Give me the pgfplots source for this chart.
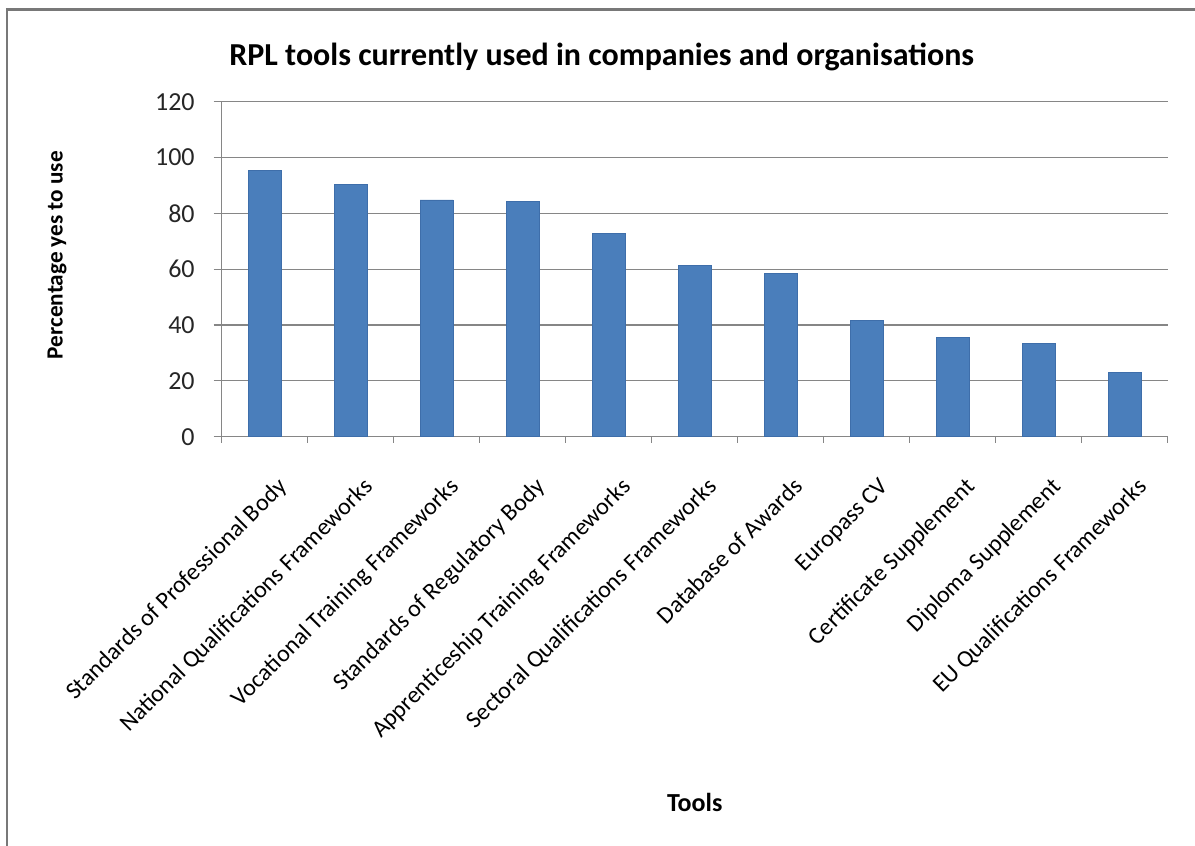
\documentclass[border=0pt]{standalone}
\usepackage{pgfplots}
\pgfplotsset{compat=1.18}
\usepackage{fontspec}
\setmainfont{Carlito}
\definecolor{barblue}{RGB}{74,126,187}
\definecolor{baredge}{RGB}{62,110,170}
\definecolor{gridgray}{RGB}{134,134,134}
\definecolor{framegray}{RGB}{120,120,120}
\begin{document}
\begin{tikzpicture}
\path[use as bounding box] (-110.85pt,-204.65pt) rectangle (486.65pt,218.35pt);
\begin{axis}[
  at={(0,0)}, anchor=south west,
  scale only axis, width=473pt, height=167.5pt,
  ymin=0, ymax=120, ytick={0,20,...,120},
  xmin=-0.5, xmax=10.5,
  xtick={0,...,10},
  xticklabels={Standards of Professional Body,National Qualifications Frameworks,Vocational Training Frameworks,Standards of Regulatory Body,Apprenticeship Training Frameworks,Sectoral Qualifications Frameworks,Database of Awards,Europass CV,Certificate Supplement,Diploma Supplement,EU Qualifications Frameworks},
  major x tick style={draw=none},
  minor xtick={-0.5,0.5,...,10.5},
  minor tick length=3pt,
  major tick length=4pt,
  tick align=outside,
  axis x line*=bottom, axis y line*=left,
  axis line style={gridgray, line width=0.6pt, -},
  every tick/.style={gridgray, line width=0.6pt},
  ymajorgrids, grid style={gridgray, line width=0.6pt},
  /pgf/number format/assume math mode=true,
  xticklabel style={rotate=45, anchor=north east, font=\fontsize{12}{14}\selectfont, inner sep=1pt, xshift=-6pt, yshift=-14pt},
  yticklabel style={font=\fontsize{13}{15}\selectfont, color=black!85, xshift=-6pt},
  title={\textbf{RPL tools currently used in companies and organisations}},
  title style={at={(axis description cs:0.5,1)}, anchor=center, yshift=16.5pt, xshift=-46.5pt, font=\fontsize{16}{19}\selectfont},
  xlabel={\textbf{Tools}},
  xlabel style={at={(axis description cs:0.5,0)}, anchor=center, yshift=-183pt, font=\fontsize{13}{15}\selectfont},
  ylabel={\textbf{Percentage yes to use}},
  ylabel style={at={(axis description cs:-0.1741,0.542)}, anchor=center, font=\fontsize{11.6}{14}\selectfont},
]
\addplot[ybar, bar width=16.5pt, fill=barblue, draw=baredge, line width=0.4pt] coordinates {
 (0,95.3) (1,90.3) (2,84.8) (3,84.2) (4,72.9) (5,61.3) (6,58.5) (7,41.5) (8,35.5) (9,33.3) (10,23.1)
};
\end{axis}
\draw[framegray, line width=1.1pt] (-107.35pt,-204.65pt) -- (-107.35pt,213.6pt);
\draw[framegray, line width=1.1pt] (-107.9pt,213.6pt) -- (486.65pt,213.6pt);
\end{tikzpicture}
\end{document}
